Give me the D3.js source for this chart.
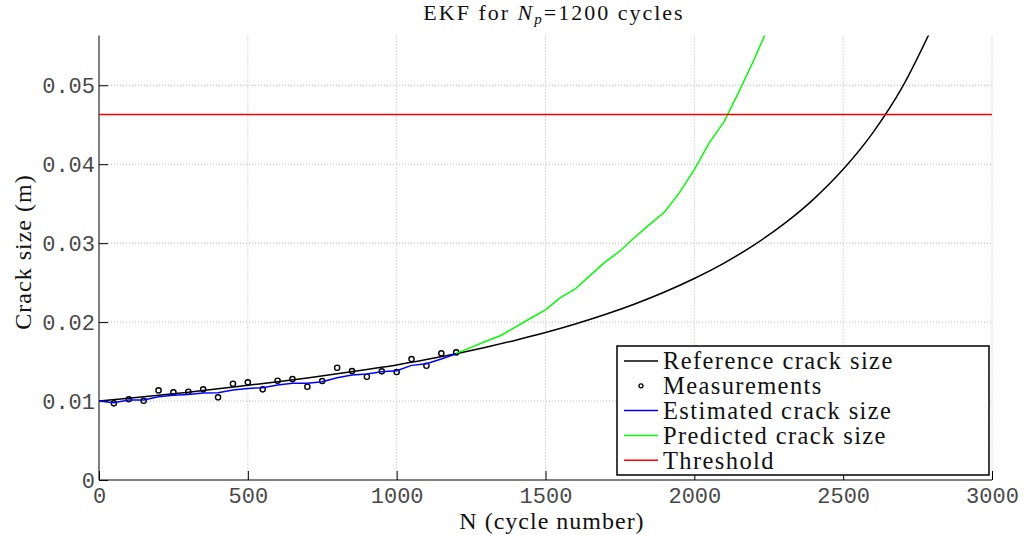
<!DOCTYPE html>
<html><head><meta charset="utf-8">
<script src="https://cdn.jsdelivr.net/npm/d3@7"></script>
<style>
html,body{margin:0;padding:0;background:#fff;}
svg{display:block;}
</style></head>
<body>
<svg id="chart" width="1024" height="535"></svg>
<script>
// ---- data ----
const refN = [0,100,200,300,400,500,600,700,800,900,1000,1100,1200,1300,1400,1500,1600,1700,1800,1900,2000,2100,2200,2300,2400,2500,2600,2700,2800];
const refA = [0.01000,0.01035,0.01072,0.01112,0.01155,0.01200,0.01245,0.01293,0.01345,0.01400,0.01457,0.01525,0.01600,0.01682,0.01771,0.01868,0.01976,0.02096,0.02230,0.02381,0.02552,0.02748,0.02975,0.03240,0.03555,0.03935,0.04400,0.04985,0.05740];

const measN = [50,100,150,200,250,300,350,400,450,500,550,600,650,700,750,800,850,900,950,1000,1050,1100,1150,1200];
const measA = [0.00971,0.01022,0.01004,0.01135,0.01110,0.01118,0.01148,0.01047,0.01219,0.01237,0.01148,0.01257,0.01278,0.01181,0.01253,0.01422,0.01380,0.01308,0.01376,0.01367,0.01532,0.01447,0.01604,0.01616];

const estN = [0,50,100,150,200,250,300,350,400,450,500,550,600,650,700,750,800,850,900,950,1000,1050,1100,1150,1200];
const estA = [0.01000,0.00979,0.01013,0.01013,0.01055,0.01072,0.01084,0.01101,0.01105,0.01139,0.01160,0.01169,0.01203,0.01224,0.01224,0.01245,0.01295,0.01329,0.01342,0.01371,0.01384,0.01452,0.01473,0.01532,0.01600];

const predN = [1200,1250,1300,1350,1400,1450,1500,1550,1600,1650,1700,1750,1800,1850,1900,1950,2000,2050,2100,2150,2200,2250];
const predA = [0.01604,0.01680,0.01757,0.01830,0.01940,0.02049,0.02155,0.02310,0.02420,0.02592,0.02760,0.02900,0.03075,0.03238,0.03395,0.03640,0.03930,0.04270,0.04540,0.04920,0.05320,0.05750];

const threshold = 0.0463;
const xTicks = [0,500,1000,1500,2000,2500,3000];
const xTickLabels = ["0","500","1000","1500","2000","2500","3000"];
const yTicks = [0,0.01,0.02,0.03,0.04,0.05];
const yTickLabels = ["0","0.01","0.02","0.03","0.04","0.05"];
const legendLabels = ["Reference crack size","Measurements","Estimated crack size","Predicted crack size","Threshold"];
const xDomain = [0,3000], yDomain = [0,0.0563];

// ---- layout ----
const svg = d3.select("#chart");
const L = 99, R = 992, T = 35.5, B = 480;
const x = d3.scaleLinear().domain(xDomain).range([L,R]);
const y = d3.scaleLinear().domain(yDomain).range([B,T]);

const tickFont = "'Liberation Mono', monospace";
const serif = "'Liberation Serif', 'Times New Roman', serif";

svg.append("defs").append("clipPath").attr("id","clip")
  .append("rect").attr("x",L).attr("y",T).attr("width",R-L+1).attr("height",B-T);

// grid
const grid = svg.append("g");
grid.selectAll("line.gx").data(xTicks.slice(1)).enter().append("line")
  .attr("x1",d=>x(d)).attr("x2",d=>x(d)).attr("y1",T).attr("y2",B)
  .attr("stroke","#b8b8b8").attr("stroke-width",1).attr("stroke-dasharray","1,2");
grid.selectAll("line.gy").data(yTicks.slice(1)).enter().append("line")
  .attr("x1",L).attr("x2",R).attr("y1",d=>y(d)).attr("y2",d=>y(d))
  .attr("stroke","#b8b8b8").attr("stroke-width",1).attr("stroke-dasharray","1,2");

// axes
const xAxis = d3.axisBottom(x).tickValues(xTicks).tickFormat((d,i)=>xTickLabels[i]).tickSizeInner(-9).tickSizeOuter(0).tickPadding(7);
const gx = svg.append("g").attr("transform",`translate(0,${B})`).call(xAxis);
const yAxis = d3.axisLeft(y).tickValues(yTicks).tickFormat((d,i)=>yTickLabels[i]).tickSizeInner(-9).tickSizeOuter(0).tickPadding(4);
const gy = svg.append("g").attr("transform",`translate(${L},0)`).call(yAxis);
[gx,gy].forEach(g=>{
  g.select(".domain").attr("stroke","#000").attr("stroke-width",1);
  g.selectAll(".tick line").attr("stroke","#000").attr("stroke-width",1);
  g.selectAll(".tick text").attr("font-family",tickFont).attr("font-size",22).attr("fill","#484848");
});
gy.select(".domain").attr("d",`M0,${T}V${B}`);
gx.select(".domain").attr("d",`M${L},0H${R}`);
gx.selectAll(".tick text").attr("dy","0.71em");

const plot = svg.append("g").attr("clip-path","url(#clip)");

const line = d3.line().x(d=>x(d[0])).y(d=>y(d[1]));
const smooth = d3.line().x(d=>x(d[0])).y(d=>y(d[1])).curve(d3.curveMonotoneX);

plot.append("path").datum(refN.map((n,i)=>[n,refA[i]])).attr("d",smooth)
  .attr("fill","none").attr("stroke","#000").attr("stroke-width",1.5);
plot.selectAll("circle.m").data(measN.map((n,i)=>[n,measA[i]])).enter().append("circle")
  .attr("cx",d=>x(d[0])).attr("cy",d=>y(d[1])).attr("r",2.6)
  .attr("fill","none").attr("stroke","#000").attr("stroke-width",1.4);
plot.append("path").datum(estN.map((n,i)=>[n,estA[i]])).attr("d",line)
  .attr("fill","none").attr("stroke","#0000ff").attr("stroke-width",1.5);
plot.append("path").datum(predN.map((n,i)=>[n,predA[i]])).attr("d",line)
  .attr("fill","none").attr("stroke","#00ff00").attr("stroke-width",1.5);
plot.append("line").attr("x1",x(0)).attr("x2",x(3000)).attr("y1",y(threshold)).attr("y2",y(threshold))
  .attr("stroke","#ff0000").attr("stroke-width",1.5);

// title
const title = svg.append("text").attr("x",554).attr("y",20).attr("text-anchor","middle")
  .attr("font-family",serif).attr("font-size",22).attr("letter-spacing",2).attr("fill","#111");
title.append("tspan").text("EKF for ");
title.append("tspan").attr("font-style","italic").text("N");
title.append("tspan").attr("font-style","italic").attr("font-size",15).attr("dy",4).text("p");
title.append("tspan").attr("dy",-4).text("=1200 cycles");

// axis labels
svg.append("text").attr("x",552).attr("y",529).attr("text-anchor","middle")
  .attr("font-family",serif).attr("font-size",24).attr("letter-spacing",1).attr("fill","#111")
  .text("N (cycle number)");
svg.append("text").attr("transform","translate(30.5,252) rotate(-90)").attr("text-anchor","middle")
  .attr("font-family",serif).attr("font-size",24).attr("letter-spacing",1).attr("fill","#111")
  .text("Crack size (m)");

// legend
const lg = svg.append("g");
lg.append("rect").attr("x",617).attr("y",346).attr("width",372).attr("height",129)
  .attr("fill","#fff").attr("stroke","#000").attr("stroke-width",1.5);
const legColors = ["#000","#000","#0000ff","#00ff00","#ff0000"];
legendLabels.forEach((lab,i)=>{
  const cy = 361 + 24.8*i;
  if (i===1) {
    lg.append("circle").attr("cx",641).attr("cy",cy).attr("r",2).attr("fill","none")
      .attr("stroke","#000").attr("stroke-width",1.3);
  } else {
    lg.append("line").attr("x1",624).attr("x2",658).attr("y1",cy).attr("y2",cy)
      .attr("stroke",legColors[i]).attr("stroke-width",1.5);
  }
  lg.append("text").attr("x",663).attr("y",cy+8.3)
    .attr("font-family",serif).attr("font-size",24.5).attr("letter-spacing",1.4).attr("fill","#111")
    .text(lab);
});
</script>
</body></html>
